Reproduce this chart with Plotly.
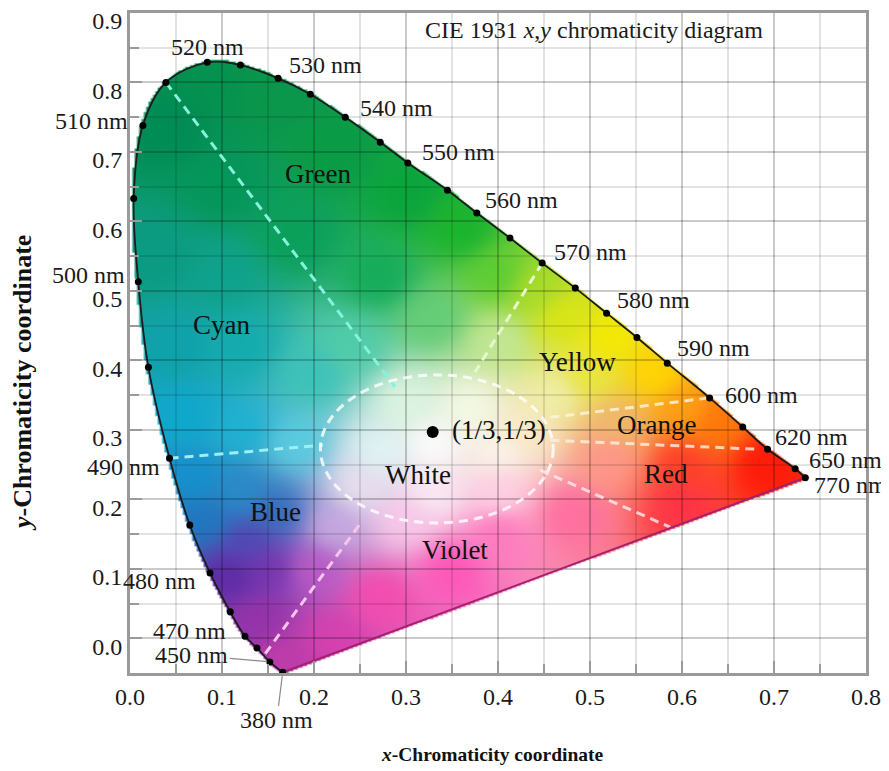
import base64
import struct
import zlib

import numpy as np
import plotly.graph_objects as go

# ---------------- data ----------------
wavelength_nm = [380, 450, 460, 470, 475, 480, 485, 490, 495, 500, 505, 510, 515, 520, 525,
                 530, 535, 540, 545, 550, 555, 560, 565, 570, 575, 580, 585, 590, 600, 610,
                 620, 650, 770]
locus_x = [0.166, 0.152, 0.138, 0.125, 0.109, 0.087, 0.065, 0.043, 0.020, 0.009,
           0.004, 0.014, 0.039, 0.084, 0.120, 0.161, 0.196, 0.234, 0.272, 0.302,
           0.345, 0.377, 0.413, 0.448, 0.484, 0.518, 0.551, 0.584, 0.630, 0.666,
           0.693, 0.723, 0.734]
locus_y = [-0.049, -0.034, -0.014, 0.003, 0.038, 0.094, 0.163, 0.259, 0.390, 0.513,
           0.633, 0.738, 0.800, 0.829, 0.825, 0.806, 0.783, 0.750, 0.714, 0.684,
           0.645, 0.612, 0.576, 0.540, 0.504, 0.468, 0.433, 0.396, 0.346, 0.304,
           0.272, 0.244, 0.231]
labeled_nm = [380, 450, 470, 480, 490, 500, 510, 520, 530, 540, 550, 560, 570, 580,
              590, 600, 620, 650, 770]

# colour-region boundaries (start x, start y, end x, end y)
boundary_names = ["Green/Cyan", "Green/Yellow", "Cyan/Blue", "Blue/Violet",
                  "Yellow/Orange", "Orange/Red", "Red/Violet"]
boundary_x0 = [0.039, 0.448, 0.043, 0.147, 0.457, 0.457, 0.446]
boundary_y0 = [0.800, 0.540, 0.259, -0.022, 0.318, 0.285, 0.242]
boundary_x1 = [0.288, 0.375, 0.210, 0.253, 0.630, 0.685, 0.587]
boundary_y1 = [0.362, 0.383, 0.278, 0.170, 0.346, 0.272, 0.160]

# white region ellipse bounds
white_x = [0.207, 0.460]
white_y = [0.166, 0.379]

# equal-energy point as drawn
white_point_x = [0.329]
white_point_y = [0.297]

region_names = ["Green", "Cyan", "Yellow", "Orange", "Red", "White", "Blue", "Violet"]
region_x = [0.204, 0.099, 0.486, 0.572, 0.583, 0.313, 0.158, 0.353]
region_y = [0.668, 0.451, 0.397, 0.307, 0.236, 0.235, 0.182, 0.127]

x_ticks = [0.0, 0.1, 0.2, 0.3, 0.4, 0.5, 0.6, 0.7, 0.8]
y_ticks = [0.0, 0.1, 0.2, 0.3, 0.4, 0.5, 0.6, 0.7, 0.8, 0.9]

# ---------------- styling ----------------
SERIF = "Liberation Serif"
GRID = "rgba(0,0,0,0.11)"

# colour anchors (x, y, r, g, b), used for the shaded fill
COLOR_ANCHORS = [
    (0.04, 0.74, 0, 140, 85), (0.08, 0.80, 5, 145, 80), (0.15, 0.78, 10, 150, 75),
    (0.22, 0.70, 10, 155, 70), (0.30, 0.64, 10, 165, 60), (0.36, 0.59, 25, 180, 45),
    (0.10, 0.65, 5, 150, 90), (0.18, 0.58, 10, 160, 90), (0.27, 0.52, 20, 172, 90),
    (0.33, 0.46, 100, 205, 120), (0.40, 0.52, 90, 205, 50), (0.44, 0.50, 170, 220, 40),
    (0.40, 0.43, 195, 232, 150), (0.47, 0.46, 220, 230, 20),
    (0.52, 0.43, 245, 235, 0), (0.50, 0.38, 232, 232, 60), (0.57, 0.38, 255, 215, 0),
    (0.46, 0.35, 240, 240, 170),
    (0.53, 0.31, 240, 185, 110), (0.60, 0.33, 255, 160, 20), (0.64, 0.31, 255, 120, 10),
    (0.52, 0.26, 255, 150, 140), (0.60, 0.25, 255, 60, 40), (0.69, 0.25, 255, 25, 10),
    (0.60, 0.19, 255, 50, 70),
    (0.48, 0.18, 255, 110, 160), (0.40, 0.15, 255, 120, 190), (0.35, 0.10, 255, 85, 185),
    (0.27, 0.06, 245, 75, 175), (0.22, 0.00, 215, 65, 175), (0.17, -0.03, 190, 60, 170),
    (0.40, 0.21, 255, 210, 230), (0.30, 0.17, 250, 200, 235),
    (0.14, 0.03, 150, 50, 170), (0.11, 0.09, 95, 40, 165), (0.15, 0.10, 120, 50, 175),
    (0.20, 0.10, 190, 90, 200), (0.13, 0.14, 80, 70, 180), (0.16, 0.18, 50, 110, 190),
    (0.22, 0.16, 200, 170, 225),
    (0.08, 0.17, 30, 120, 190), (0.07, 0.23, 20, 145, 205), (0.12, 0.21, 40, 140, 200),
    (0.06, 0.32, 15, 168, 205), (0.12, 0.30, 30, 178, 210), (0.18, 0.28, 90, 205, 225),
    (0.05, 0.42, 15, 162, 170), (0.12, 0.42, 20, 172, 175), (0.20, 0.38, 60, 195, 185),
    (0.03, 0.55, 10, 155, 130), (0.10, 0.52, 15, 162, 140), (0.24, 0.42, 80, 205, 170),
    (0.33, 0.28, 253, 253, 253), (0.27, 0.27, 225, 245, 245), (0.30, 0.34, 220, 245, 225),
    (0.37, 0.33, 245, 250, 230), (0.40, 0.27, 252, 245, 235), (0.33, 0.21, 252, 235, 245),
    (0.25, 0.22, 235, 225, 240), (0.43, 0.30, 250, 235, 200),
]

BOUNDARY_COLORS = ["#86f2dc", "#e6f8cc", "#9eeef2", "#f7c6ef",
                   "rgba(255,245,225,0.8)", "rgba(255,240,225,0.8)", "rgba(255,235,240,0.8)"]

# label placement: (xanchor, xshift, yshift) or ("arrow", ax, ay)
LABEL_POS = {
    520: ("center", 0, 15), 530: ("left", 9, 13), 540: ("left", 13, 9),
    550: ("left", 12, 11), 560: ("left", 6, 13), 570: ("left", 10, 11),
    580: ("left", 8, 13), 590: ("left", 8, 15), 600: ("left", 13, 3),
    620: ("left", 5, 12), 650: ("left", 12, 9), 770: ("left", 7, -7),
    510: ("right", -13, 5), 500: ("right", -11, 7), 490: ("right", -8, -9),
    480: ("right", -12, -8), 470: ("right", -17, 5),
    450: ("arrow", -78, -7), 380: ("arrow", -6, 48),
}
NM_SIZE = 24
REGION_SIZE = 27


# ---------------- shaded fill of the gamut ----------------
def densify(xs, ys, n=10):
    P = np.column_stack([xs, ys]).astype(float)
    P = np.vstack([P[0], P, P[-1]])
    out = []
    for i in range(1, len(P) - 2):
        p0, p1, p2, p3 = P[i - 1], P[i], P[i + 1], P[i + 2]
        for t in np.linspace(0, 1, n, endpoint=False):
            t2, t3 = t * t, t * t * t
            out.append(0.5 * ((2 * p1) + (-p0 + p2) * t + (2 * p0 - 5 * p1 + 4 * p2 - p3) * t2
                              + (-p0 + 3 * p1 - 3 * p2 + p3) * t3))
    out.append(P[-2])
    return np.array(out)


def inside(px, py, vx, vy):
    res = np.zeros(px.shape, bool)
    n = len(vx)
    j = n - 1
    for i in range(n):
        xi, yi, xj, yj = vx[i], vy[i], vx[j], vy[j]
        if yi != yj:
            cond = ((yi > py) != (yj > py)) & (px < (xj - xi) * (py - yi) / (yj - yi) + xi)
            res ^= cond
        j = i
    return res


def png_data_uri(rgba):
    h, w, _ = rgba.shape
    raw = b"".join(b"\x00" + rgba[r].tobytes() for r in range(h))

    def chunk(tag, payload):
        return (struct.pack(">I", len(payload)) + tag + payload
                + struct.pack(">I", zlib.crc32(tag + payload) & 0xFFFFFFFF))

    png = (b"\x89PNG\r\n\x1a\n"
           + chunk(b"IHDR", struct.pack(">IIBBBBB", w, h, 8, 6, 0, 0, 0))
           + chunk(b"IDAT", zlib.compress(raw, 9))
           + chunk(b"IEND", b""))
    return "data:image/png;base64," + base64.b64encode(png).decode()


CELL = 0.0025
IMG_X0, IMG_X1 = -0.005, 0.745
IMG_Y0, IMG_Y1 = -0.06, 0.85
W = int(round((IMG_X1 - IMG_X0) / CELL))
H = int(round((IMG_Y1 - IMG_Y0) / CELL))
gx = IMG_X0 + (np.arange(W) + 0.5) * CELL
gy = IMG_Y1 - (np.arange(H) + 0.5) * CELL
XX, YY = np.meshgrid(gx, gy)

poly = densify(locus_x, locus_y)
mask = inside(XX, YY, poly[:, 0], poly[:, 1])
m = mask.copy()
m[1:, :] |= mask[:-1, :]
m[:-1, :] |= mask[1:, :]
m[:, 1:] |= mask[:, :-1]
m[:, :-1] |= mask[:, 1:]
mask = m

anc = np.array(COLOR_ANCHORS, float)
AX, AY, AC = anc[:, 0], anc[:, 1], anc[:, 2:5]
d2 = ((XX[..., None] - AX) * 1.2) ** 2 + (YY[..., None] - AY) ** 2
wts = 1.0 / (d2 + 8e-4) ** 1.8
rgb = (wts @ AC) / wts.sum(-1, keepdims=True)
img = np.zeros((H, W, 4), np.uint8)
img[..., :3] = np.clip(rgb, 0, 255).astype(np.uint8)
img[..., 3] = np.where(mask, 255, 0).astype(np.uint8)

# ---------------- figure ----------------
fig = go.Figure()

fig.add_layout_image(
    source=png_data_uri(img), xref="x", yref="y", x=IMG_X0, y=IMG_Y1,
    sizex=IMG_X1 - IMG_X0, sizey=IMG_Y1 - IMG_Y0, xanchor="left", yanchor="top",
    sizing="stretch", layer="below",
)

for i, name in enumerate(boundary_names):
    fig.add_trace(go.Scatter(
        x=[boundary_x0[i], boundary_x1[i]], y=[boundary_y0[i], boundary_y1[i]],
        mode="lines", line=dict(color=BOUNDARY_COLORS[i], width=3, dash="9px,6px"),
        hoverinfo="skip", name=name,
    ))

fig.add_shape(type="circle", xref="x", yref="y",
              x0=white_x[0], x1=white_x[1], y0=white_y[0], y1=white_y[1],
              line=dict(color="rgba(255,255,255,0.8)", width=3, dash="9px,6px"))

# purple line
fig.add_trace(go.Scatter(
    x=[locus_x[0], locus_x[-1]], y=[locus_y[0], locus_y[-1]], mode="lines",
    line=dict(color="#a3216d", width=2), hoverinfo="skip", name="purple line",
))
# spectral locus
fig.add_trace(go.Scatter(
    x=locus_x, y=locus_y, mode="lines+markers", line=dict(color="#1c1c1c", width=1.8, shape="spline"),
    marker=dict(color="#000000", size=7), cliponaxis=False, text=[f"{w} nm" for w in wavelength_nm],
    name="spectral locus",
))
fig.add_trace(go.Scatter(
    x=white_point_x, y=white_point_y, mode="markers", marker=dict(color="#000000", size=12),
    name="(1/3,1/3)",
))

annotations = []
for w in labeled_nm:
    i = wavelength_nm.index(w)
    pos = LABEL_POS[w]
    if pos[0] == "arrow":
        annotations.append(dict(
            x=locus_x[i], y=locus_y[i], xref="x", yref="y", text=f"{w} nm",
            showarrow=True, arrowhead=0, arrowwidth=1.2, arrowcolor="#8a8a8a",
            ax=pos[1], ay=pos[2], standoff=3, font=dict(family=SERIF, size=NM_SIZE, color="#1a1a1a"),
        ))
    else:
        annotations.append(dict(
            x=locus_x[i], y=locus_y[i], xref="x", yref="y", text=f"{w} nm",
            showarrow=False, xanchor=pos[0], yanchor="middle", xshift=pos[1], yshift=pos[2],
            font=dict(family=SERIF, size=NM_SIZE, color="#1a1a1a"),
        ))

for name, x, y in zip(region_names, region_x, region_y):
    annotations.append(dict(x=x, y=y, xref="x", yref="y", text=name, showarrow=False,
                            font=dict(family=SERIF, size=REGION_SIZE, color="#111111")))

annotations.append(dict(x=white_point_x[0], y=white_point_y[0], xref="x", yref="y",
                        text="(1/3,1/3)", showarrow=False, xanchor="left", xshift=17, yshift=2,
                        font=dict(family=SERIF, size=REGION_SIZE, color="#111111")))

annotations.append(dict(x=0.398, y=0.974, xref="paper", yref="paper", xanchor="left",
                        yanchor="middle", showarrow=False,
                        text="CIE 1931 <i>x</i>,<i>y</i> chromaticity diagram",
                        font=dict(family=SERIF, size=24, color="#1a1a1a")))
annotations.append(dict(x=0.492, y=-0.123, xref="paper", yref="paper", showarrow=False,
                        xanchor="center", yanchor="middle",
                        text="<b><i>x</i>-Chromaticity coordinate</b>",
                        font=dict(family=SERIF, size=19.5, color="#111111")))
annotations.append(dict(x=-0.147, y=0.439, xref="paper", yref="paper", showarrow=False,
                        xanchor="center", yanchor="middle",
                        textangle=-90, text="<b><i>y</i>-Chromaticity coordinate</b>",
                        font=dict(family=SERIF, size=26, color="#111111")))

# the page body adds an 8px offset, so the figure is 8px smaller than the window
fig.update_layout(
    width=881, height=763, margin=dict(l=122, r=23, t=5, b=98),
    plot_bgcolor="white", paper_bgcolor="white", showlegend=False,
    font=dict(family=SERIF, size=24, color="#1a1a1a"),
    annotations=annotations,
)
axis_common = dict(
    showgrid=True, gridcolor=GRID, gridwidth=1.5, zeroline=False, automargin=False,
    ticks="inside", ticklen=12, tickcolor="#9a9a9a", tickwidth=2,
    showline=True, linecolor="#9a9a9a", linewidth=3, mirror=True,
    tickfont=dict(family=SERIF, size=24, color="#1a1a1a"), tickformat=".1f",
    ticklabeloverflow="allow",
    minor=dict(dtick=0.05, showgrid=True, gridcolor=GRID, gridwidth=1.5,
               ticks="inside", ticklen=9, tickcolor="#9a9a9a", tickwidth=2),
)
fig.update_xaxes(range=[0, 0.8], tickvals=x_ticks, **axis_common)
fig.update_yaxes(range=[-0.05, 0.9], tickvals=y_ticks, ticklabelshift=8, **axis_common)

fig.write_html("out.html")
